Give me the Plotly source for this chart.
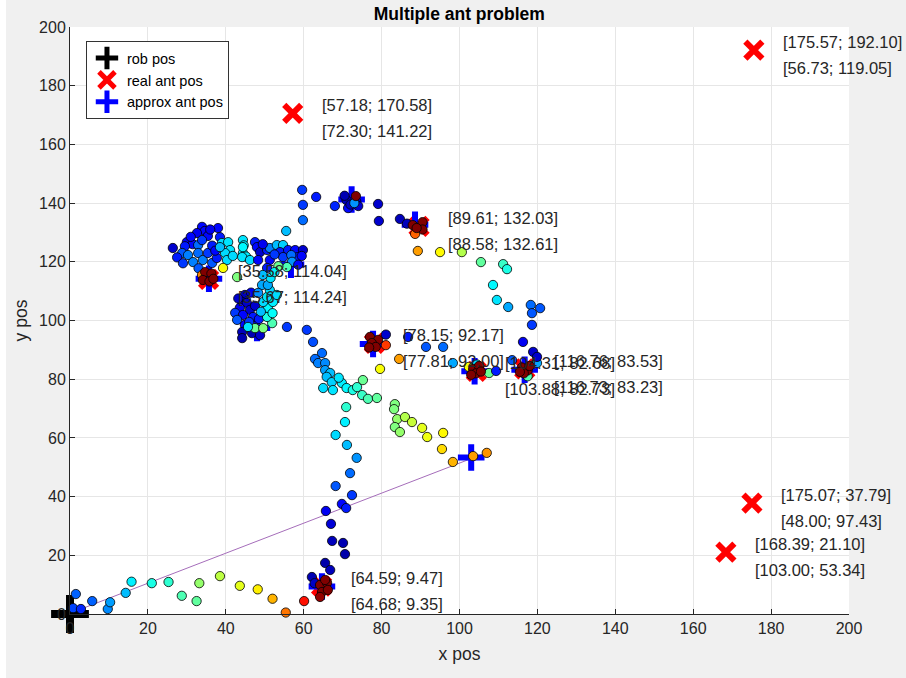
import plotly.graph_objects as go

# ---------------- data ----------------
rob_x = [0.0]
rob_y = [0.0]

real_x = [57.18, 175.57, 89.61, 35.58, 78.15, 104.31, 116.76, 64.59, 175.07, 168.39]
real_y = [170.58, 192.10, 132.03, 114.04, 92.17, 82.68, 83.53, 9.47, 37.79, 21.10]
approx_x = [72.30, 56.73, 88.58, 35.67, 77.81, 103.88, 116.73, 64.68, 48.00, 103.00]
approx_y = [141.22, 119.05, 132.61, 114.24, 92.00, 82.73, 83.23, 9.35, 97.43, 53.34]

line_x = [0.5, 107.0]
line_y = [0.5, 55.0]

# scattered samples: (x, y, colour value 0..1 on jet)
dots = [
    # bottom path
    (1.5, 6.8, 0.22), (0.8, 2.0, 0.19), (2.8, 1.7, 0.16), (5.7, 4.4, 0.22), (9.7, 1.7, 0.26),
    (10.3, 4.0, 0.28), (14.3, 7.2, 0.31), (15.8, 11.0, 0.36), (21.0, 10.5, 0.40), (25.3, 10.9, 0.42),
    (28.7, 6.2, 0.45), (32.5, 4.4, 0.47), (33.2, 10.5, 0.52), (38.5, 12.9, 0.56), (43.6, 9.6, 0.60),
    (48.2, 8.4, 0.64), (52.0, 5.2, 0.70), (55.4, 0.5, 0.76), (60.1, 4.4, 0.86),
    # cluster near (64.6, 9.5)
    (62.1, 12.6, 0.04), (65.5, 17.4, 0.03), (66.8, 15.0, 0.05), (62.8, 10.5, 0.06),
    (64.2, 9.9, 1.0), (66.0, 10.6, 1.0), (64.7, 7.5, 1.0), (66.2, 8.2, 1.0), (64.2, 5.8, 0.98), (65.5, 11.6, 1.0),
    # path upwards
    (67.3, 24.9, 0.05), (70.1, 24.2, 0.04), (70.6, 20.4, 0.03), (67.0, 30.7, 0.08), (65.7, 35.1, 0.11),
    (69.8, 37.5, 0.13), (70.9, 36.1, 0.15), (72.4, 40.5, 0.18), (68.2, 43.6, 0.21), (71.9, 48.0, 0.23),
    (73.6, 53.2, 0.27), (71.1, 57.6, 0.31), (68.2, 61.0, 0.34), (70.6, 65.4, 0.36), (70.9, 70.5, 0.42),
    # cyan cluster
    (60.8, 96.8, 0.18), (62.4, 92.7, 0.20), (64.7, 88.9, 0.23), (62.9, 86.9, 0.23), (63.7, 85.5, 0.25),
    (65.5, 85.5, 0.26), (65.5, 83.1, 0.28), (66.8, 82.1, 0.31), (65.9, 80.8, 0.31), (67.2, 79.0, 0.33),
    (65.0, 77.0, 0.34), (67.5, 76.3, 0.35), (69.8, 78.7, 0.36), (71.0, 77.0, 0.37), (72.6, 76.3, 0.40),
    (75.0, 74.6, 0.43), (76.5, 73.3, 0.45), (78.8, 73.6, 0.47), (73.7, 77.3, 0.42), (69.0, 80.5, 0.35),
    (75.2, 79.7, 0.48), (79.6, 83.5, 0.62), (84.5, 86.9, 0.72),
    # green / yellow path
    (83.4, 71.5, 0.50), (83.2, 69.8, 0.50), (84.0, 66.4, 0.52), (83.4, 63.7, 0.50), (84.7, 62.0, 0.52),
    (86.0, 67.1, 0.55), (87.8, 65.4, 0.57), (90.4, 63.4, 0.60), (91.7, 60.3, 0.61), (95.8, 61.7, 0.63),
    (95.5, 56.2, 0.66), (98.3, 51.8, 0.70), (103.5, 53.8, 0.72), (107.0, 54.9, 0.73),
    # around (78, 92)
    (81.1, 91.6, 0.82), (77.0, 94.4, 1.0), (79.1, 93.4, 1.0), (77.5, 92.3, 1.0), (78.5, 91.0, 1.0),
    (76.8, 90.8, 1.0), (81.1, 95.2, 0.07), (86.8, 94.4, 0.15), (91.4, 91.0, 0.21), (95.8, 91.0, 0.23),
    (98.3, 85.5, 0.29),
    # around (104, 83)
    (102.4, 84.2, 0.62), (104.5, 85.0, 0.35), (107.6, 82.1, 0.48), (109.4, 82.8, 0.15),
    (103.5, 83.5, 1.0), (105.0, 84.5, 1.0), (104.2, 82.0, 1.0), (105.5, 82.6, 1.0), (103.0, 81.5, 1.0),
    # around (116.7, 83.5)
    (113.5, 86.5, 0.21), (119.9, 85.5, 0.29), (116.3, 92.7, 0.11), (118.9, 89.3, 0.07), (119.9, 87.6, 0.07),
    (117.5, 81.0, 0.45),
    (116.0, 84.0, 1.0), (117.5, 83.0, 1.0), (116.5, 82.0, 1.0), (118.0, 84.5, 1.0), (115.5, 82.5, 1.0),
    # right arc
    (89.3, 123.7, 0.72), (95.0, 123.3, 0.63), (100.6, 123.3, 0.55), (105.5, 119.9, 0.47), (111.2, 119.2, 0.43),
    (112.2, 117.5, 0.40), (108.6, 112.1, 0.37), (109.6, 107.0, 0.35), (112.5, 104.6, 0.29), (118.3, 105.3, 0.23),
    (120.7, 104.2, 0.21), (118.6, 102.5, 0.21), (118.6, 98.5, 0.18),
    # around (89.6, 132)
    (79.1, 139.7, 0.07), (79.3, 133.9, 0.07), (84.7, 134.6, 0.05), (86.5, 133.0, 0.05), (88.6, 129.5, 0.78),
    (88.0, 132.5, 1.0), (90.5, 133.5, 1.0), (90.5, 131.0, 1.0), (89.0, 131.5, 1.0),
    # around (72.3, 141.2)
    (68.0, 139.0, 0.16), (71.4, 138.3, 0.13), (71.0, 141.0, 0.05), (70.5, 142.5, 0.04), (72.0, 139.5, 0.05),
    (73.5, 140.5, 0.07), (74.0, 139.0, 0.07), (73.0, 140.0, 0.27), (73.4, 142.4, 1.0),
    # stragglers top
    (59.6, 144.5, 0.18), (63.2, 142.1, 0.15), (59.8, 139.4, 0.18), (59.8, 134.2, 0.23), (55.5, 130.5, 0.31),
    # upper-left cluster
    (26.4, 124.7, 0.07), (33.9, 131.9, 0.13), (34.6, 130.5, 0.13), (32.6, 129.8, 0.11), (35.4, 128.8, 0.13),
    (30.0, 126.7, 0.11), (31.5, 126.0, 0.13), (29.5, 125.3, 0.15), (32.9, 125.7, 0.23), (33.9, 127.4, 0.18),
    (28.8, 123.0, 0.21), (30.3, 122.3, 0.25), (31.6, 119.9, 0.25), (32.9, 123.0, 0.23), (34.1, 120.6, 0.25),
    (35.4, 123.0, 0.18), (36.5, 119.6, 0.21), (37.7, 121.3, 0.15), (38.0, 131.5, 0.13), (38.5, 128.4, 0.15),
    (36.5, 125.5, 0.15), (27.5, 121.5, 0.15), (29.0, 119.5, 0.18), (33.0, 117.8, 0.21), (37.3, 123.8, 0.13),
    (31.0, 128.5, 0.13), (36.0, 131.0, 0.11),
    (39.0, 126.4, 0.34), (40.6, 126.7, 0.35), (41.1, 124.0, 0.35), (39.8, 123.0, 0.34), (40.3, 120.6, 0.34),
    (41.8, 122.0, 0.34), (38.5, 125.0, 0.31), (39.3, 117.9, 0.62), (42.9, 114.8, 0.50),
    (33.9, 115.5, 0.75),
    (34.7, 116.5, 1.0), (36.3, 116.0, 1.0), (34.1, 113.8, 1.0), (35.8, 113.3, 1.0), (36.8, 114.2, 1.0),
    (44.4, 127.4, 0.35), (44.6, 125.6, 0.36), (44.4, 123.0, 0.36), (45.2, 121.8, 0.36), (44.2, 121.6, 0.35),
    (46.2, 120.6, 0.34), (44.4, 125.0, 0.37),
    (47.5, 126.7, 0.15), (48.0, 125.0, 0.13), (48.8, 123.3, 0.07), (50.6, 124.0, 0.15), (51.3, 124.7, 0.25),
    (53.1, 125.7, 0.31), (54.7, 125.7, 0.33), (53.9, 123.3, 0.15), (56.0, 124.0, 0.15), (57.8, 124.0, 0.13),
    (59.8, 124.0, 0.07), (58.5, 121.6, 0.15), (54.7, 121.6, 0.18), (51.3, 120.6, 0.13), (50.6, 117.9, 0.15),
    (48.3, 120.6, 0.13), (52.5, 122.5, 0.18), (56.8, 122.3, 0.23), (59.5, 122.0, 0.13), (57.0, 120.0, 0.27),
    (49.5, 126.0, 0.11), (55.7, 118.2, 0.45), (53.5, 118.5, 0.48), (58.6, 119.0, 0.13),
    # lower-middle cluster
    (44.9, 108.7, 0.05), (44.2, 106.3, 0.04), (45.4, 106.0, 0.07), (43.6, 104.3, 0.11), (46.2, 103.6, 0.07),
    (42.4, 102.6, 0.18), (44.4, 101.9, 0.13), (47.0, 101.2, 0.15), (42.9, 100.2, 0.21), (44.9, 98.5, 0.13),
    (44.2, 96.1, 0.05), (46.7, 95.7, 0.04), (44.2, 94.0, 0.04), (48.8, 95.0, 0.07), (46.0, 99.5, 0.18),
    (47.5, 105.0, 0.07), (43.2, 107.5, 0.07), (46.5, 109.5, 0.11), (48.5, 100.5, 0.15),
    (47.5, 97.4, 0.48), (45.7, 97.8, 0.35), (49.6, 97.4, 0.50), (51.9, 99.1, 0.45), (50.6, 101.2, 0.40),
    (50.8, 104.3, 0.37), (52.1, 106.3, 0.36), (49.6, 106.3, 0.34), (50.6, 108.0, 0.35), (51.3, 110.4, 0.34),
    (49.3, 112.1, 0.29), (50.8, 112.1, 0.29), (48.3, 109.4, 0.27), (53.1, 108.7, 0.34), (49.0, 103.0, 0.31),
    (52.0, 102.5, 0.38), (51.5, 114.5, 0.35), (49.5, 115.5, 0.31), (52.5, 116.5, 0.36),
    (55.7, 97.8, 0.18),
]
dot_x = [d[0] for d in dots]
dot_y = [d[1] for d in dots]
dot_c = [d[2] for d in dots]

x_ticks = list(range(0, 201, 20))
y_ticks = list(range(0, 201, 20))

# ---------------- figure ----------------
jet = [[0.0, "#00008F"], [0.125, "#0000FF"], [0.375, "#00FFFF"],
       [0.625, "#FFFF00"], [0.875, "#FF0000"], [1.0, "#800000"]]
FONT = "Liberation Sans, Arial, Helvetica, sans-serif"
TXT = "#262626"

fig = go.Figure()

fig.add_trace(go.Scatter(x=line_x, y=line_y, mode="lines",
                         line=dict(color="#A56DBA", width=1), showlegend=False, hoverinfo="skip"))

fig.add_trace(go.Scatter(x=rob_x, y=rob_y, mode="markers", name="rob pos", cliponaxis=False,
                         marker=dict(symbol="cross-thin", size=27, color="black",
                                     line=dict(color="black", width=8))))
fig.add_trace(go.Scatter(x=real_x, y=real_y, mode="markers", name="real ant pos", cliponaxis=False,
                         marker=dict(symbol="x-thin", size=17, color="red",
                                     line=dict(color="#FF0000", width=6))))
fig.add_trace(go.Scatter(x=approx_x, y=approx_y, mode="markers", name="approx ant pos", cliponaxis=False,
                         marker=dict(symbol="cross-thin", size=19, color="blue",
                                     line=dict(color="#0000FF", width=6))))

fig.add_trace(go.Scatter(x=dot_x, y=dot_y, mode="markers", showlegend=False, cliponaxis=False,
                         marker=dict(size=9.3, color=dot_c, colorscale=jet, cmin=0, cmax=1,
                                     line=dict(color="black", width=0.8))))

annotations = []
for rx, ry, ax_, ay_ in zip(real_x, real_y, approx_x, approx_y):
    annotations.append(dict(x=rx, y=ry, xref="x", yref="y", text=f"[{rx:.2f}; {ry:.2f}]",
                            showarrow=False, xanchor="left", yanchor="middle", xshift=27, yshift=8,
                            font=dict(family=FONT, size=16.5, color=TXT)))
    annotations.append(dict(x=rx, y=ry, xref="x", yref="y", text=f"[{ax_:.2f}; {ay_:.2f}]",
                            showarrow=False, xanchor="left", yanchor="middle", xshift=27, yshift=-18,
                            font=dict(family=FONT, size=16.5, color=TXT)))

axis_common = dict(showgrid=True, gridcolor="#E6E6E6", gridwidth=1, zeroline=False,
                   showline=True, linecolor=TXT, linewidth=1, ticks="inside", ticklen=5,
                   tickcolor=TXT, tickfont=dict(family=FONT, size=16, color=TXT), mirror=False)

fig.update_layout(
    width=906, height=678,
    margin=dict(l=70, r=57, t=27, b=64),
    paper_bgcolor="#F0F0F0", plot_bgcolor="white",
    title=dict(text="<b>Multiple ant problem</b>", x=0.507, xref="container", xanchor="center",
               y=1 - 14 / 678, yref="container", yanchor="middle",
               font=dict(family=FONT, size=17.5, color="black")),
    xaxis=dict(range=[0, 200], tickvals=x_ticks, ticktext=[str(v) for v in x_ticks],
               title=dict(text="x pos", font=dict(family=FONT, size=17.5, color=TXT), standoff=11),
               **axis_common),
    yaxis=dict(range=[0, 200], tickvals=y_ticks, ticktext=[str(v) for v in y_ticks],
               title=dict(text="y pos", font=dict(family=FONT, size=17.5, color=TXT), standoff=6),
               **axis_common),
    legend=dict(x=0.0205, y=0.976, xanchor="left", yanchor="top", bgcolor="white",
                bordercolor="#333333", borderwidth=1, font=dict(family=FONT, size=14.5, color="black"),
                tracegroupgap=0),
    annotations=annotations,
    shapes=[dict(type="rect", xref="paper", yref="paper", x0=-70 / 779, x1=-64 / 779,
                 y0=-64 / 587, y1=614 / 587, fillcolor="white", line=dict(width=0), layer="below")],
    showlegend=True,
)

fig.write_html("out.html")
